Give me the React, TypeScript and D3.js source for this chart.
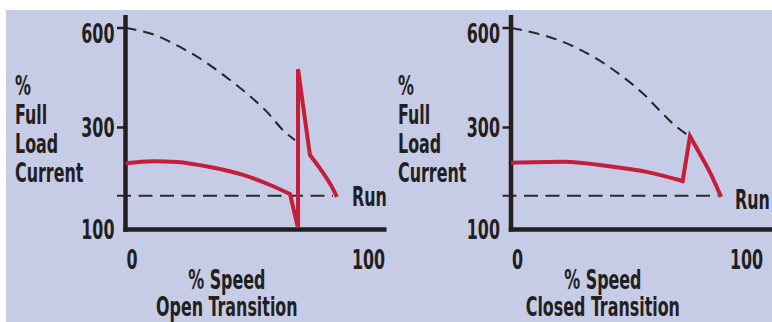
import React from "react";
import * as d3 from "d3";

// ---- data (schematic chart: % full load current vs % speed) ----
const yTicks = [600, 300, 100];
const yKnots = [100, 300, 600];
const xTicks = [0, 100];
const yLabelLines = ["%", "Full", "Load", "Current"];
const xLabel = "% Speed";
const runLevel = 166;

// Open transition
const openArcX = [0, 11.3, 21.2, 34.8, 48.4, 59.5, 67.7];
const openArcY = [230, 234, 232.4, 222.5, 207, 187.3, 169.6];
const openSpikeX = [67.7, 71, 71, 75.9];
const openSpikeY = [169.6, 103, 476, 246];
const openTailX = [75.9, 81.3, 85, 87];
const openTailY = [246, 211, 183, 164];
const openLimitX = [0, 12.1, 21.6, 31.5, 40.9, 49.2, 58.2, 65.6, 69.8];
const openLimitY = [600, 579, 546, 504, 455, 407, 347, 291, 275];
const openRunEnd = 85.4;

// Closed transition
const closedArcX = [0, 22.2, 43.4, 57.6, 72.9];
const closedArcY = [231, 233, 223, 213, 195];
const closedPeakX = [72.9, 76];
const closedPeakY = [195, 283];
const closedTailX = [76, 80, 84.5, 89.2];
const closedTailY = [283, 250, 212, 164];
const closedLimitX = [0, 10.2, 24.2, 35.7, 47.1, 56.3, 63.3, 70.3, 73.9, 76];
const closedLimitY = [600, 585, 552, 510, 455, 401, 350, 302, 289, 283];
const closedRunEnd = 88;

const zip = (xs: number[], ys: number[]) => xs.map((x, i) => [x, ys[i]] as [number, number]);

const FONT = "'DejaVu Sans Condensed', 'Liberation Sans Narrow', sans-serif";
const INK = "#231f20";
const RED = "#c41e3a";
const BG = "#c6cbe6";
const SX = 0.68;

function T({
  x,
  y,
  anchor = "start",
  children,
}: {
  x: number;
  y: number;
  anchor?: "start" | "middle" | "end";
  children: React.ReactNode;
}) {
  return (
    <text
      transform={`translate(${x},${y}) scale(${SX},1)`}
      textAnchor={anchor}
      fontFamily={FONT}
      fontWeight={700}
      fontSize={26}
      fill={INK}
    >
      {children}
    </text>
  );
}

type PanelProps = {
  axisX: number;
  unit: number;
  title: string;
  titleX: number;
  arc: [number, number][];
  mid: [number, number][];
  tail: [number, number][];
  limit: [number, number][];
  runEnd: number;
  runLabelDx: number;
  runBaseline: number;
  labelX: number;
};

function Panel(p: PanelProps) {
  const x = d3.scaleLinear().domain([0, 100]).range([p.axisX, p.axisX + p.unit * 100]);
  const y = d3.scaleLinear().domain(yKnots).range([229.5, 127.5, 28]);

  const smooth = d3
    .line<[number, number]>()
    .x((d) => x(d[0]))
    .y((d) => y(d[1]))
    .curve(d3.curveMonotoneX);
  const straight = d3
    .line<[number, number]>()
    .x((d) => x(d[0]))
    .y((d) => y(d[1]));

  const redPath =
    (smooth(p.arc) || "") +
    (straight(p.mid) || "").replace(/^M/, "L") +
    (smooth(p.tail) || "").replace(/^M/, "L");

  const limitPath = smooth(p.limit) || "";

  return (
    <g>
      <T x={p.labelX} y={95}>
        {yLabelLines.map((t, i) => (
          <tspan key={t} x={0} dy={i === 0 ? 0 : 29}>
            {t}
          </tspan>
        ))}
      </T>

      <line
        x1={p.axisX - 8.5}
        x2={x(p.runEnd)}
        y1={y(runLevel)}
        y2={y(runLevel)}
        stroke="#2b2b2b"
        strokeWidth={2}
        strokeDasharray="14 7.5"
      />
      <path d={limitPath} fill="none" stroke="#262626" strokeWidth={2} strokeDasharray="11 7" />

      <line x1={p.axisX} x2={p.axisX} y1={15} y2={231.75} stroke={INK} strokeWidth={4.5} />
      <line x1={p.axisX - 2.25} x2={p.axisX + 261} y1={229.5} y2={229.5} stroke={INK} strokeWidth={4.5} />
      {yTicks
        .filter((v) => v !== yKnots[0])
        .map((v) => (
          <line key={v} x1={p.axisX - 8.5} x2={p.axisX} y1={y(v)} y2={y(v)} stroke={INK} strokeWidth={2.5} />
        ))}
      {yTicks.map((v) => (
        <T key={v} x={p.axisX - 11} y={Math.max(y(v) + 9.5, 43)} anchor="end">
          {v}
        </T>
      ))}
      {xTicks.map((v, i) => (
        <T key={v} x={x(v) + (i === 0 ? 6.5 : 0)} y={269} anchor="middle">
          {v}
        </T>
      ))}

      <path d={redPath} fill="none" stroke={RED} strokeWidth={4} strokeLinejoin="miter" />

      <T x={p.axisX + p.runLabelDx} y={p.runBaseline}>
        Run
      </T>

      <T x={x(p.titleX)} y={289} anchor="middle">
        <tspan x={0} dy={0}>
          {xLabel}
        </tspan>
        <tspan x={0} dy={27}>
          {p.title}
        </tspan>
      </T>
    </g>
  );
}

export default function App() {
  return (
    <svg width={772} height={322} style={{ position: "absolute", left: 0, top: 0, display: "block" }}>
      <rect x={0} y={0} width={772} height={322} fill="#ffffff" />
      <rect x={6} y={10} width={766} height={312} fill={BG} />
      <Panel
        axisX={125.5}
        unit={2.43}
        title="Open Transition"
        titleX={41.7}
        arc={zip(openArcX, openArcY)}
        mid={zip(openSpikeX, openSpikeY)}
        tail={zip(openTailX, openTailY)}
        limit={zip(openLimitX, openLimitY)}
        runEnd={openRunEnd}
        runLabelDx={226.5}
        runBaseline={206}
        labelX={15}
      />
      <Panel
        axisX={511}
        unit={2.355}
        title="Closed Transition"
        titleX={39}
        arc={zip(closedArcX, closedArcY)}
        mid={zip(closedPeakX, closedPeakY)}
        tail={zip(closedTailX, closedTailY)}
        limit={zip(closedLimitX, closedLimitY)}
        runEnd={closedRunEnd}
        runLabelDx={224}
        runBaseline={209}
        labelX={398}
      />
    </svg>
  );
}
